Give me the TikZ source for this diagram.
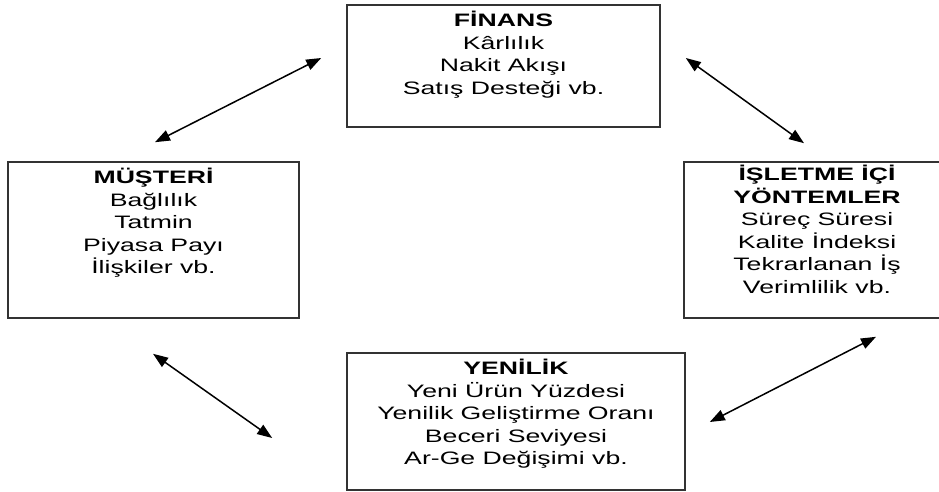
\documentclass[tikz,border=0pt]{standalone}
\usepackage{fontspec}
\setmainfont{Liberation Sans}[FakeStretch=1.48]
\usetikzlibrary{arrows.meta, positioning}

\begin{document}
\begin{tikzpicture}[
	x=1pt, y=1pt,
	node distance=7pt,
	box/.style = {draw=black!80, line width=1.6pt, inner sep=0pt},
	txt/.style = {align=center, inner sep=0pt, font=\fontsize{18}{22.5}\selectfont},
	dbl/.style = {line width=1.5pt,
		{Triangle[length=15pt,width=11pt]}-{Triangle[length=15pt,width=11pt]}}
     ]
		\useasboundingbox (0,0) rectangle (939,492);
%
		\node[box, minimum width=313pt, minimum height=122pt] (fin) at (503.5,426) {};
		\node[txt, below=of fin.north] (finT)
		{\textbf{FİNANS}\\Kârlılık\\Nakit Akışı\\Satış Desteği vb.};
%
		\node[box, minimum width=291pt, minimum height=156pt] (mus) at (153.5,252) {};
		\node[txt, below=of mus.north] (musT)
		{\textbf{MÜŞTERİ}\\Bağlılık\\Tatmin\\Piyasa Payı\\İlişkiler vb.};
%
		\node[box, minimum width=266pt, minimum height=156pt] (isl) at (817,252) {};
		\node[txt, below=4pt of isl.north] (islT)
		{\textbf{İŞLETME İÇİ}\\\textbf{YÖNTEMLER}\\Süreç Süresi\\Kalite İndeksi\\Tekrarlanan İş\\Verimlilik vb.};
%
		\node[box, minimum width=338pt, minimum height=137pt] (yen) at (516,70.5) {};
		\node[txt, below=of yen.north] (yenT)
		{\textbf{YENİLİK}\\Yeni Ürün Yüzdesi\\Yenilik Geliştirme Oranı\\Beceri Seviyesi\\Ar-Ge Değişimi vb.};
%
		\draw[dbl] ([shift={(1.5,19)}] mus.north) -- ([shift={(-25,8)}] fin.west);
		\draw[dbl] ([shift={(25,8)}] fin.east) -- ([shift={(-13,18)}] isl.north);
		\draw[dbl] ([shift={(-0.5,-35)}] mus.south) -- ([shift={(-74,-16.5)}] yen.west);
		\draw[dbl] ([shift={(24,-0.5)}] yen.east) -- ([shift={(59,-18)}] isl.south);

\end{tikzpicture}
\end{document}
